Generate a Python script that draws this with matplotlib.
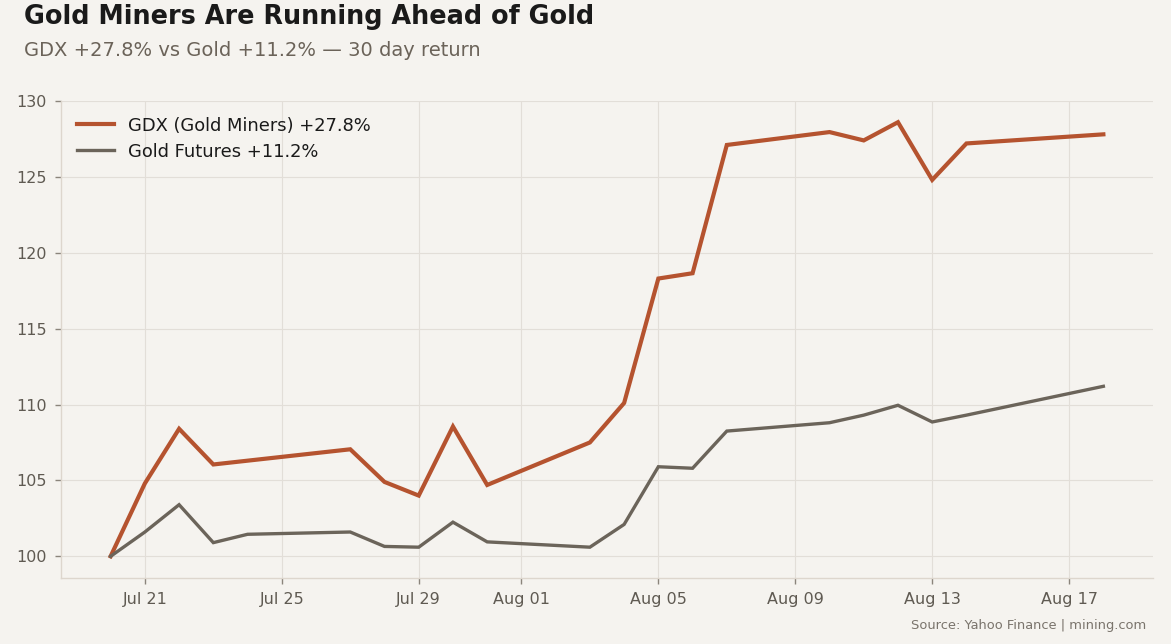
import matplotlib
matplotlib.use("Agg")
import matplotlib.pyplot as plt
import matplotlib.dates as mdates
import pandas as pd

dates = ["2025-07-20", "2025-07-21", "2025-07-22", "2025-07-23", "2025-07-24",
         "2025-07-27", "2025-07-28", "2025-07-29", "2025-07-30", "2025-07-31",
         "2025-08-03", "2025-08-04", "2025-08-05", "2025-08-06", "2025-08-07",
         "2025-08-10", "2025-08-11", "2025-08-12", "2025-08-13", "2025-08-14",
         "2025-08-18"]
gdx = [100.0, 104.8, 108.4, 106.05, 106.3,
       107.05, 104.9, 104.0, 108.55, 104.7,
       107.5, 110.1, 118.3, 118.65, 127.1,
       127.95, 127.4, 128.6, 124.8, 127.2,
       127.8]
gold = [100.0, 101.6, 103.4, 100.9, 101.45,
        101.6, 100.65, 100.6, 102.25, 100.95,
        100.6, 102.1, 105.9, 105.8, 108.25,
        108.8, 109.3, 109.95, 108.85, 109.3,
        111.2]
gdx_label = "GDX (Gold Miners) +27.8%"
gold_label = "Gold Futures +11.2%"
title = "Gold Miners Are Running Ahead of Gold"
subtitle = "GDX +27.8% vs Gold +11.2% \u2014 30 day return"
source = "Source: Yahoo Finance | mining.com"

x = pd.to_datetime(dates)

BG = "#f5f3ef"
plt.rcParams["font.family"] = ["DejaVu Sans"]
fig = plt.figure(figsize=(11.71, 6.44), dpi=100, facecolor=BG)
ax = fig.add_axes([61/1171, 1 - 578/644, (1153-61)/1171, (578-100.5)/644])
ax.set_facecolor(BG)

ax.plot(x, gdx, color="#b5532f", lw=3.0, label=gdx_label, solid_joinstyle="miter")
ax.plot(x, gold, color="#6b645a", lw=2.4, label=gold_label, solid_joinstyle="miter")

ax.set_yticks([100, 105, 110, 115, 120, 125, 130])
ax.xaxis.set_major_locator(mdates.DayLocator(bymonthday=[1, 5, 9, 13, 17, 21, 25, 29]))
ax.xaxis.set_major_formatter(mdates.DateFormatter("%b %d"))

ax.grid(True, color="#e2ded8", lw=0.8)
ax.set_axisbelow(True)
for s in ["top", "right"]:
    ax.spines[s].set_visible(False)
for s in ["left", "bottom"]:
    ax.spines[s].set_color("#ddd6cd")
    ax.spines[s].set_linewidth(1.0)
ax.tick_params(axis="both", colors="#5f5a52", labelsize=11.5, length=4, width=1, pad=6)
ax.tick_params(axis="both", color="#8a847b")

leg = ax.legend(loc="upper left", frameon=False, fontsize=12.9, handlelength=2.05,
                handletextpad=0.8, borderaxespad=0.5, labelspacing=0.45)
for t in leg.get_texts():
    t.set_color("#1a1a1a")

fig.text(24/1171, 1 - 17/644, title, fontsize=18.4, fontweight="bold", color="#1a1a1a",
         va="center", ha="left")
fig.text(24/1171, 1 - 51/644, subtitle, fontsize=14, color="#6b6359",
         va="center", ha="left")
fig.text(1146/1171, 1 - 626/644, source, fontsize=9.4, color="#7a746c",
         va="center", ha="right")

fig.savefig("out.png", dpi=100, facecolor=BG)
